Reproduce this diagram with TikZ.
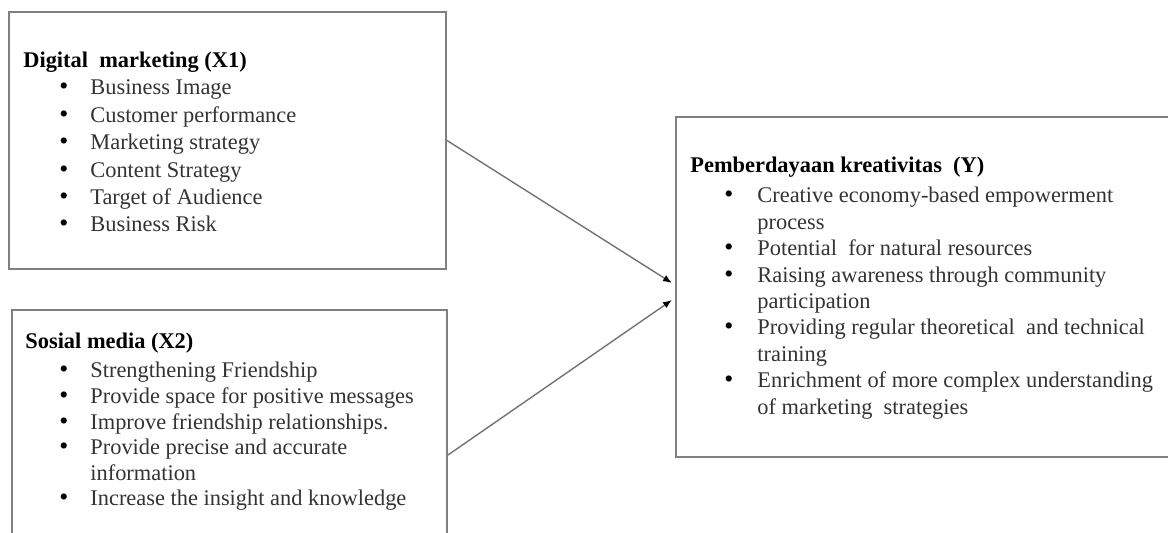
\documentclass[tikz,border=0pt]{standalone}
\usepackage{fontspec}
\setmainfont{Liberation Serif}
\usetikzlibrary{arrows.meta,fit,calc}
\newcommand{\bul}{\textcolor{black}{\scalebox{1.15}{\textbullet}}}
\begin{document}
\begin{tikzpicture}[x=0.5pt,y=-0.5pt,
    panel/.style={draw=black!50,line width=1pt,inner sep=0pt},
    head/.style={anchor=base west,inner sep=0pt,font=\fontsize{11.2}{13.5}\selectfont\bfseries},
    items/.style={anchor=base west,inner sep=0pt,text=black!80,font=\fontsize{11.2}{#1}\selectfont},
    link/.style={draw=black!55,line width=0.7pt,-{Latex[length=4.5pt,width=3.5pt,black]}}]
  \clip (0,0) rectangle (1168,533);
  % boxes
  \node[panel,fit={(9,12) (446,269)}] (dm) {};
  \node[panel,fit={(12,310) (447,600)}] (sm) {};
  \node[panel,fit={(676,117) (1180,457)}] (pk) {};
  % digital marketing
  \node[head] (dmt) at (23,68) {Digital\ \ marketing (X1)};
  \node[items=13.7] (dml) at (59,95) {\begin{tabular}[t]{@{}p{15.5pt}@{}l@{}}
    \bul & Business Image\\
    \bul & Customer performance\\
    \bul & Marketing strategy\\
    \bul & Content Strategy\\
    \bul & Target of Audience\\
    \bul & Business Risk
  \end{tabular}};
  % social media
  \node[head] (smt) at (25,349) {Sosial media (X2)};
  \node[items=12.8] (sml) at (59,378) {\begin{tabular}[t]{@{}p{15.5pt}@{}l@{}}
    \bul & Strengthening Friendship\\
    \bul & Provide space for positive messages\\
    \bul & Improve friendship relationships.\\
    \bul & Provide precise and accurate\\
         & information\\
    \bul & Increase the insight and knowledge
  \end{tabular}};
  % pemberdayaan kreativitas
  \node[head] (pkt) at (690,173) {Pemberdayaan kreativitas\ \ (Y)};
  \node[items=13.2] (pkl) at (724,203) {\begin{tabular}[t]{@{}p{16.5pt}@{}l@{}}
    \bul & Creative economy-based empowerment\\
         & process\\
    \bul & Potential\ \ for natural resources\\
    \bul & Raising awareness through community\\
         & participation\\
    \bul & Providing regular theoretical\ \ and technical\\
         & training\\
    \bul & Enrichment of more complex understanding\\
         & of marketing\ \ strategies
  \end{tabular}};
  % arrows
  \draw[link] (dm.east) -- ($(pk.west)+(-3,-4)$);
  \draw[link] (sm.east) -- ($(pk.west)+(-3,13)$);
\end{tikzpicture}
\end{document}
